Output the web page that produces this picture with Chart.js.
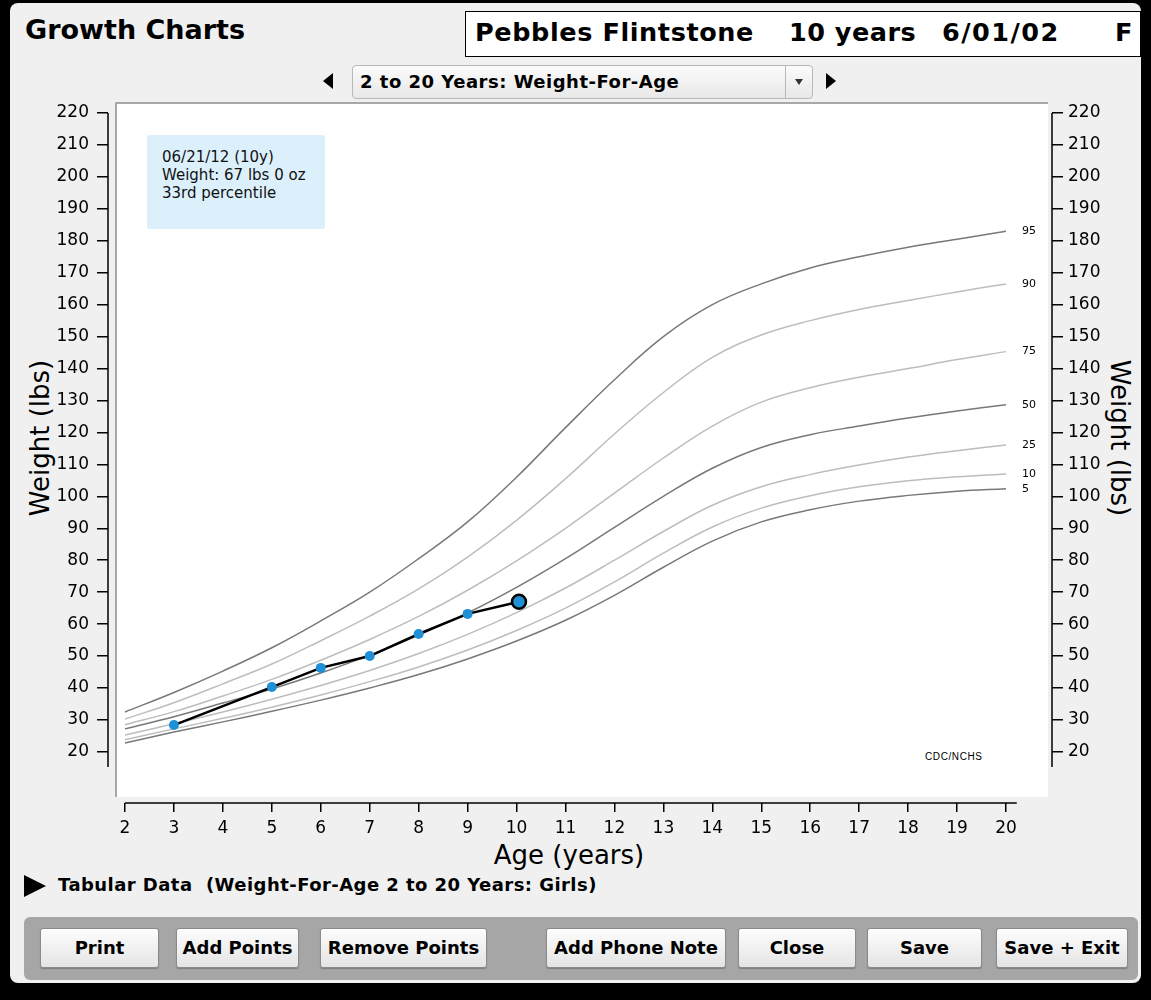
<!DOCTYPE html>
<html>
<head>
<meta charset="utf-8">
<script src="https://cdn.jsdelivr.net/npm/chart.js@4"></script>
<style>
  html, body { margin: 0; padding: 0; }
  body { width: 1151px; height: 1000px; background: #000; position: relative; overflow: hidden; font-family: "DejaVu Sans", sans-serif; }
  .panel { position: absolute; left: 10px; top: 3px; width: 1131px; height: 980px; background: #f0f0f0; border-radius: 8px; }
  .abs { position: absolute; white-space: nowrap; }
  .title { left: 25px; top: 14px; font-size: 27px; font-weight: bold; }
  .patient { left: 465px; top: 11px; width: 674px; height: 44px; background: #fff; border: 1px solid #000; }
  .patient span { position: absolute; top: 5px; font-size: 25.5px; font-weight: bold; }
  .tri-l { left: 323px; top: 73px; width: 0; height: 0; border-top: 8px solid transparent; border-bottom: 8px solid transparent; border-right: 10px solid #000; }
  .tri-r { left: 826px; top: 73px; width: 0; height: 0; border-top: 8px solid transparent; border-bottom: 8px solid transparent; border-left: 10px solid #000; }
  .dropdown { left: 352px; top: 65px; width: 459px; height: 32px; border: 1px solid #b8b8b8; border-radius: 4px; background: linear-gradient(#fbfbfb, #e8e8e8); }
  .dropdown .txt { position: absolute; left: 7px; top: 5px; font-size: 18px; font-weight: bold; letter-spacing: 0.5px; }
  .dropdown .btn { position: absolute; right: 0; top: 0; width: 26px; height: 32px; border-left: 1px solid #b8b8b8; }
  .dropdown .btn:after { content: ""; position: absolute; left: 9px; top: 13px; border-left: 4px solid transparent; border-right: 4px solid transparent; border-top: 6px solid #333; }
  .plotbg { left: 115px; top: 102px; width: 931px; height: 693px; background: #fff; border-left: 2px solid #a8a8a8; border-top: 2px solid #a8a8a8; }
  .info { left: 147px; top: 135px; width: 178px; height: 94px; background: #dcf0fc; border-radius: 3px; }
  .info div { position: absolute; left: 15px; font-size: 15px; color: #111; }
  .cdc { left: 925px; top: 751px; font-size: 10px; letter-spacing: 0.6px; font-family: "Liberation Sans", sans-serif; }
  .ytitle { font-size: 26px; }
  .xtitle { left: 569px; top: 855px; font-size: 26px; transform: translate(-50%,-50%); }
  .tab-tri { left: 24px; top: 875px; width: 0; height: 0; border-top: 11px solid transparent; border-bottom: 11px solid transparent; border-left: 22px solid #000; }
  .tab { left: 58px; top: 874px; font-size: 18px; font-weight: bold; letter-spacing: 0.45px; }
  .bar { left: 24px; top: 917px; width: 1114px; height: 63px; background: #a6a6a6; border-radius: 6px; }
  .button { position: absolute; top: 928px; height: 38px; border: 1px solid #8a8a8a; border-radius: 3px; background: linear-gradient(#fdfdfd, #e4e4e4); font-size: 18px; font-weight: bold; text-align: center; line-height: 38px; box-shadow: 0 1px 1px rgba(0,0,0,0.25); }
  canvas { position: absolute; left: 0; top: 0; }
</style>
</head>
<body>
<div class="panel"></div>
<div class="abs title">Growth Charts</div>
<div class="abs patient">
  <span style="left:9px; letter-spacing: 0.6px">Pebbles Flintstone</span>
  <span style="left:323px; letter-spacing: 0.5px">10 years</span>
  <span style="left:476px; letter-spacing: 1.5px">6/01/02</span>
  <span style="left:649px">F</span>
</div>
<div class="abs tri-l"></div>
<div class="abs dropdown"><div class="txt">2 to 20 Years: Weight-For-Age</div><div class="btn"></div></div>
<div class="abs tri-r"></div>
<div class="abs plotbg"></div>
<div class="abs info">
  <div style="top:13px">06/21/12 (10y)</div>
  <div style="top:31px">Weight: 67 lbs 0 oz</div>
  <div style="top:49px">33rd percentile</div>
</div>
<div class="abs cdc">CDC/NCHS</div>
<div class="abs ytitle" style="left:40px; top:438px; transform: translate(-50%,-50%) rotate(-90deg);">Weight (lbs)</div>
<div class="abs ytitle" style="left:1120px; top:438px; transform: translate(-50%,-50%) rotate(90deg);">Weight (lbs)</div>
<div class="abs xtitle">Age (years)</div>
<div class="abs tab-tri"></div>
<div class="abs tab">Tabular Data&nbsp; (Weight-For-Age 2 to 20 Years: Girls)</div>
<div class="abs bar"></div>
<div class="button" style="left:40px; width:117px">Print</div>
<div class="button" style="left:176px; width:121px">Add Points</div>
<div class="button" style="left:320px; width:165px">Remove Points</div>
<div class="button" style="left:546px; width:178px">Add Phone Note</div>
<div class="button" style="left:738px; width:116px">Close</div>
<div class="button" style="left:867px; width:113px">Save</div>
<div class="button" style="left:996px; width:130px">Save + Exit</div>

<canvas id="chart" width="1151" height="1000"></canvas>

<script>
// CDC weight-for-age, girls 2-20 years (lbs)
const ages = [2, 3, 4, 5, 6, 7, 8, 9, 10, 11, 12, 13, 14, 15, 16, 17, 18, 19, 20];
const p95 = [32.5, 38.6, 45.3, 52.6, 61, 70, 80.5, 92, 106, 121.5, 136.5, 150, 160, 166.5, 171.5, 175, 178, 180.5, 183];
const p90 = [30.3, 35.4, 41.3, 47.5, 54.8, 62.5, 71, 81, 92.5, 105.5, 119.5, 132.5, 143.5, 150.5, 155, 158.5, 161.3, 164, 166.5];
const p75 = [28.5, 32.6, 37.5, 42.7, 48.7, 55.2, 62.4, 70.6, 79.8, 90, 101, 112, 122, 129.5, 134, 137.3, 140, 142.8, 145.3];
const p50 = [27.2, 31, 35.3, 39.7, 44.7, 50.3, 56.6, 63.5, 71.5, 80.5, 90.3, 100, 108.8, 115.3, 119.3, 122, 124.5, 126.7, 128.7];
const p25 = [25.3, 28.8, 32.5, 36.5, 40.8, 45.5, 50.8, 56.8, 63.6, 71.3, 80, 89, 97.2, 103, 106.8, 109.8, 112.3, 114.3, 116.1];
const p10 = [23.8, 27.2, 30.5, 34, 37.8, 42, 46.6, 51.9, 58, 65, 73.2, 82.2, 90.4, 96.3, 100.2, 103, 104.9, 106.1, 107];
const p5 = [22.8, 26.2, 29.4, 32.7, 36.2, 40, 44.2, 49.1, 54.7, 61.2, 69, 77.8, 86, 92, 95.8, 98.5, 100.3, 101.6, 102.4];

const percentiles = ['95', '90', '75', '50', '25', '10', '5'];
const curves = [p95, p90, p75, p50, p25, p10, p5];

// patient visits
const visitAges = [3, 5, 6, 7, 8, 9, 10.05];
const visitWeights = [28.4, 40.3, 46.3, 50, 56.9, 63.2, 67];

const yTicks = [20, 30, 40, 50, 60, 70, 80, 90, 100, 110, 120, 130, 140, 150, 160, 170, 180, 190, 200, 210, 220];

const dark = '#787878';
const light = '#bdbdbd';

const last = visitAges.length - 1;
const datasets = [{
  label: 'Pebbles',
  data: visitAges.map((a, i) => ({x: a, y: visitWeights[i]})),
  borderColor: '#000',
  borderWidth: 2.5,
  tension: 0,
  pointRadius: visitAges.map((a, i) => i === last ? 7 : 5),
  pointBackgroundColor: '#1f8fd6',
  pointBorderColor: visitAges.map((a, i) => i === last ? '#000' : '#1f8fd6'),
  pointBorderWidth: visitAges.map((a, i) => i === last ? 2.5 : 0),
  order: 0
}];
curves.forEach((c, i) => {
  const major = ['95', '50', '5'].includes(percentiles[i]);
  datasets.push({
    label: percentiles[i],
    data: ages.map((a, j) => ({x: a, y: c[j]})),
    borderColor: major ? dark : light,
    borderWidth: 1.5,
    pointRadius: 0,
    tension: 0.4,
    order: 1
  });
});

const tickFont = {family: 'DejaVu Sans', size: 17};

const axisLines = {
  id: 'axisLines',
  afterDraw(chart) {
    const {ctx, chartArea} = chart;
    const x = chart.scales.x, y = chart.scales.y;
    ctx.save();
    ctx.strokeStyle = '#000';
    ctx.lineWidth = 1.5;
    ctx.beginPath();
    ctx.moveTo(chartArea.left, y.getPixelForValue(220));
    ctx.lineTo(chartArea.left, y.getPixelForValue(15.3));
    ctx.moveTo(chartArea.right, y.getPixelForValue(220));
    ctx.lineTo(chartArea.right, y.getPixelForValue(15.3));
    ctx.moveTo(x.getPixelForValue(2), chartArea.bottom);
    ctx.lineTo(x.getPixelForValue(20.22), chartArea.bottom);
    ctx.stroke();
    // percentile labels at the curve ends
    ctx.fillStyle = '#000';
    ctx.font = '11px "DejaVu Sans"';
    ctx.textBaseline = 'middle';
    curves.forEach((c, i) => {
      const px = x.getPixelForValue(ages[ages.length - 1]) + 16;
      const py = y.getPixelForValue(c[c.length - 1]);
      ctx.fillText(percentiles[i], px, py);
    });
    ctx.restore();
  }
};

new Chart(document.getElementById('chart').getContext('2d'), {
  type: 'line',
  data: {datasets: datasets},
  options: {
    responsive: false,
    animation: false,
    layout: {padding: {left: 12, right: 11, top: 113, bottom: 137}},
    plugins: {legend: {display: false}, tooltip: {enabled: false}},
    scales: {
      x: {
        type: 'linear',
        min: 1.653,
        max: 20.94,
        afterBuildTicks: s => { s.ticks = ages.map(v => ({value: v})); },
        afterFit: s => { s.height = 60; },
        ticks: {autoSkip: false, color: '#000', font: tickFont, padding: 6, maxRotation: 0},
        grid: {drawOnChartArea: false, drawTicks: true, tickLength: 9, color: '#000', lineWidth: 1.5},
        border: {display: false}
      },
      y: {
        position: 'left',
        min: 4,
        max: 220,
        afterBuildTicks: s => { s.ticks = yTicks.map(v => ({value: v})); },
        afterFit: s => { s.width = 96; },
        ticks: {autoSkip: false, color: '#000', font: tickFont, padding: 8},
        grid: {drawOnChartArea: false, drawTicks: true, tickLength: 11, color: '#000', lineWidth: 1.5},
        border: {display: false}
      },
      y2: {
        position: 'right',
        min: 4,
        max: 220,
        afterBuildTicks: s => { s.ticks = yTicks.map(v => ({value: v})); },
        afterFit: s => { s.width = 88; },
        ticks: {autoSkip: false, color: '#000', font: tickFont, padding: 5},
        grid: {drawOnChartArea: false, drawTicks: true, tickLength: 11, color: '#000', lineWidth: 1.5},
        border: {display: false}
      }
    }
  },
  plugins: [axisLines]
});
</script>
</body>
</html>
